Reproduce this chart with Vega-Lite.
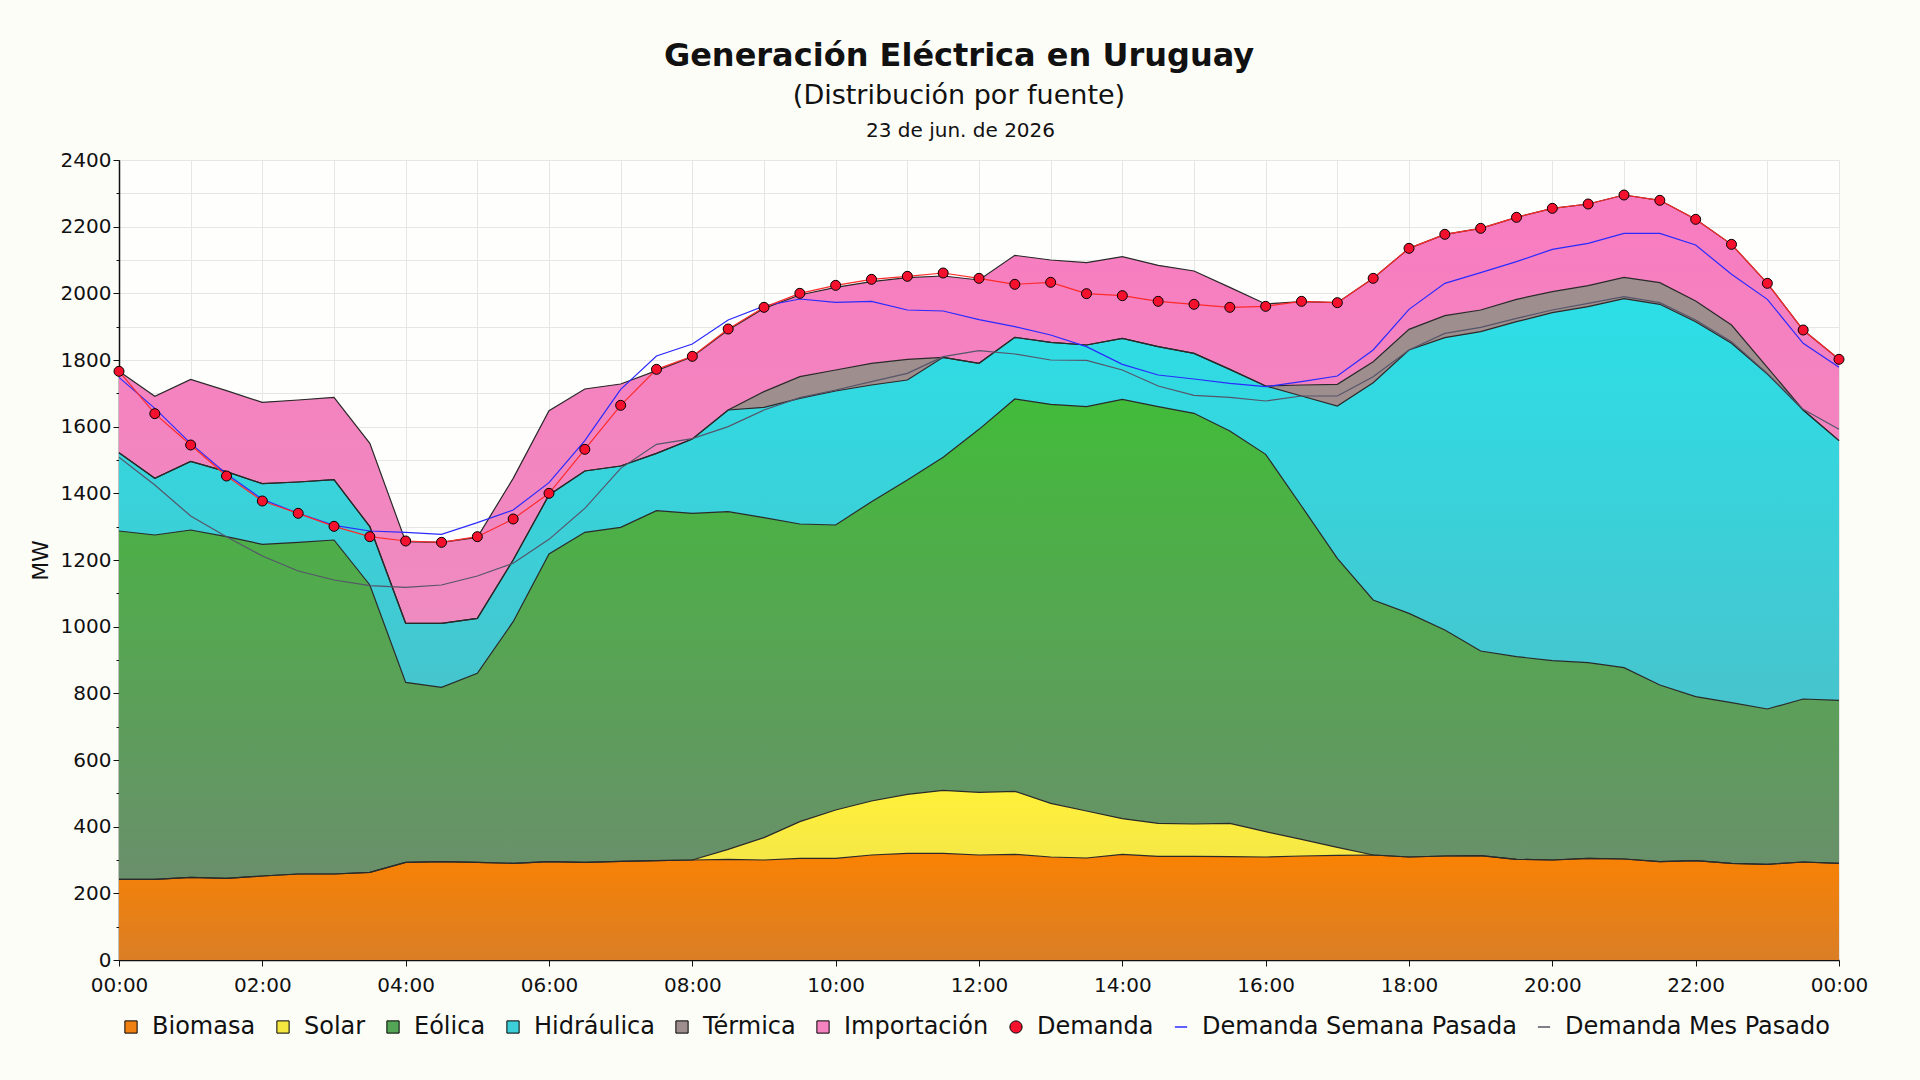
{
  "$schema": "https://vega.github.io/schema/vega-lite/v6.json",
  "width": 1720,
  "height": 800,
  "autosize": "none",
  "padding": {"left": 119, "top": 160, "right": 81, "bottom": 120},
  "background": "#fdfdf8",
  "config": {
    "font": "DejaVu Sans",
    "view": {"fill": "#fefefc", "stroke": null}
  },
  "title": {
    "text": "Generación Eléctrica en Uruguay",
    "subtitle": "(Distribución por fuente)",
    "fontSize": 32,
    "fontWeight": "bold",
    "subtitleFontSize": 27,
    "subtitlePadding": 10,
    "color": "#111",
    "subtitleColor": "#111",
    "font": "DejaVu Sans",
    "subtitleFont": "DejaVu Sans",
    "anchor": "middle",
    "frame": "group",
    "dx": -20,
    "offset": 10
  },
  "data": {
    "values": [
      {"hora": 0, "Biomasa": 242, "Solar": 0, "Eólica": 1045, "Hidráulica": 235, "Térmica": 0, "Importación": 244, "Demanda": 1766, "SemanaPasada": 1748, "MesPasado": 1508},
      {"hora": 0.5, "Biomasa": 242, "Solar": 0, "Eólica": 1033, "Hidráulica": 170, "Térmica": 0, "Importación": 246, "Demanda": 1639, "SemanaPasada": 1655, "MesPasado": 1425},
      {"hora": 1, "Biomasa": 248, "Solar": 0, "Eólica": 1042, "Hidráulica": 206, "Térmica": 0, "Importación": 246, "Demanda": 1545, "SemanaPasada": 1550, "MesPasado": 1332},
      {"hora": 1.5, "Biomasa": 245, "Solar": 0, "Eólica": 1025, "Hidráulica": 195, "Térmica": 0, "Importación": 243, "Demanda": 1452, "SemanaPasada": 1458, "MesPasado": 1270},
      {"hora": 2, "Biomasa": 252, "Solar": 0, "Eólica": 995, "Hidráulica": 182, "Térmica": 0, "Importación": 244, "Demanda": 1377, "SemanaPasada": 1382, "MesPasado": 1212},
      {"hora": 2.5, "Biomasa": 258, "Solar": 0, "Eólica": 995, "Hidráulica": 181, "Térmica": 0, "Importación": 246, "Demanda": 1340, "SemanaPasada": 1340, "MesPasado": 1167},
      {"hora": 3, "Biomasa": 258, "Solar": 0, "Eólica": 1002, "Hidráulica": 181, "Térmica": 0, "Importación": 247, "Demanda": 1301, "SemanaPasada": 1304, "MesPasado": 1140},
      {"hora": 3.5, "Biomasa": 263, "Solar": 0, "Eólica": 862, "Hidráulica": 175, "Térmica": 0, "Importación": 250, "Demanda": 1270, "SemanaPasada": 1287, "MesPasado": 1123},
      {"hora": 4, "Biomasa": 293, "Solar": 0, "Eólica": 540, "Hidráulica": 177, "Térmica": 0, "Importación": 245, "Demanda": 1257, "SemanaPasada": 1283, "MesPasado": 1118},
      {"hora": 4.5, "Biomasa": 295, "Solar": 0, "Eólica": 523, "Hidráulica": 192, "Térmica": 0, "Importación": 243, "Demanda": 1253, "SemanaPasada": 1277, "MesPasado": 1125},
      {"hora": 5, "Biomasa": 293, "Solar": 0, "Eólica": 567, "Hidráulica": 165, "Térmica": 0, "Importación": 243, "Demanda": 1270, "SemanaPasada": 1312, "MesPasado": 1152},
      {"hora": 5.5, "Biomasa": 290, "Solar": 0, "Eólica": 725, "Hidráulica": 185, "Térmica": 0, "Importación": 245, "Demanda": 1323, "SemanaPasada": 1350, "MesPasado": 1190},
      {"hora": 6, "Biomasa": 295, "Solar": 0, "Eólica": 923, "Hidráulica": 177, "Térmica": 0, "Importación": 253, "Demanda": 1400, "SemanaPasada": 1432, "MesPasado": 1262},
      {"hora": 6.5, "Biomasa": 293, "Solar": 0, "Eólica": 990, "Hidráulica": 184, "Térmica": 0, "Importación": 246, "Demanda": 1532, "SemanaPasada": 1558, "MesPasado": 1355},
      {"hora": 7, "Biomasa": 296, "Solar": 0, "Eólica": 1002, "Hidráulica": 184, "Térmica": 0, "Importación": 246, "Demanda": 1664, "SemanaPasada": 1712, "MesPasado": 1475},
      {"hora": 7.5, "Biomasa": 298, "Solar": 0, "Eólica": 1050, "Hidráulica": 172, "Térmica": 0, "Importación": 248, "Demanda": 1772, "SemanaPasada": 1812, "MesPasado": 1547},
      {"hora": 8, "Biomasa": 300, "Solar": 0, "Eólica": 1040, "Hidráulica": 223, "Térmica": 0, "Importación": 247, "Demanda": 1811, "SemanaPasada": 1848, "MesPasado": 1564},
      {"hora": 8.5, "Biomasa": 302, "Solar": 30, "Eólica": 1013, "Hidráulica": 305, "Térmica": 0, "Importación": 240, "Demanda": 1893, "SemanaPasada": 1920, "MesPasado": 1600},
      {"hora": 9, "Biomasa": 300, "Solar": 67, "Eólica": 960, "Hidráulica": 331, "Térmica": 47, "Importación": 250, "Demanda": 1958, "SemanaPasada": 1962, "MesPasado": 1650},
      {"hora": 9.5, "Biomasa": 305, "Solar": 110, "Eólica": 893, "Hidráulica": 377, "Térmica": 65, "Importación": 245, "Demanda": 2000, "SemanaPasada": 1983, "MesPasado": 1687},
      {"hora": 10, "Biomasa": 305, "Solar": 145, "Eólica": 855, "Hidráulica": 402, "Térmica": 63, "Importación": 248, "Demanda": 2024, "SemanaPasada": 1973, "MesPasado": 1710},
      {"hora": 10.5, "Biomasa": 315, "Solar": 162, "Eólica": 898, "Hidráulica": 350, "Térmica": 65, "Importación": 245, "Demanda": 2042, "SemanaPasada": 1976, "MesPasado": 1735},
      {"hora": 11, "Biomasa": 320, "Solar": 177, "Eólica": 943, "Hidráulica": 300, "Térmica": 62, "Importación": 245, "Demanda": 2051, "SemanaPasada": 1950, "MesPasado": 1760},
      {"hora": 11.5, "Biomasa": 320, "Solar": 189, "Eólica": 999, "Hidráulica": 300, "Térmica": 0, "Importación": 244, "Demanda": 2061, "SemanaPasada": 1947, "MesPasado": 1810},
      {"hora": 12, "Biomasa": 315, "Solar": 188, "Eólica": 1089, "Hidráulica": 198, "Térmica": 0, "Importación": 250, "Demanda": 2045, "SemanaPasada": 1921, "MesPasado": 1828},
      {"hora": 12.5, "Biomasa": 317, "Solar": 189, "Eólica": 1177, "Hidráulica": 185, "Térmica": 0, "Importación": 246, "Demanda": 2027, "SemanaPasada": 1900, "MesPasado": 1818},
      {"hora": 13, "Biomasa": 309, "Solar": 161, "Eólica": 1197, "Hidráulica": 186, "Térmica": 0, "Importación": 247, "Demanda": 2033, "SemanaPasada": 1875, "MesPasado": 1800},
      {"hora": 13.5, "Biomasa": 306, "Solar": 141, "Eólica": 1213, "Hidráulica": 185, "Térmica": 0, "Importación": 247, "Demanda": 1999, "SemanaPasada": 1840, "MesPasado": 1799},
      {"hora": 14, "Biomasa": 317, "Solar": 107, "Eólica": 1258, "Hidráulica": 183, "Térmica": 0, "Importación": 245, "Demanda": 1993, "SemanaPasada": 1787, "MesPasado": 1770},
      {"hora": 14.5, "Biomasa": 311, "Solar": 99, "Eólica": 1250, "Hidráulica": 180, "Térmica": 0, "Importación": 244, "Demanda": 1976, "SemanaPasada": 1755, "MesPasado": 1722},
      {"hora": 15, "Biomasa": 311, "Solar": 97, "Eólica": 1232, "Hidráulica": 180, "Térmica": 0, "Importación": 247, "Demanda": 1967, "SemanaPasada": 1743, "MesPasado": 1694},
      {"hora": 15.5, "Biomasa": 310, "Solar": 100, "Eólica": 1177, "Hidráulica": 185, "Térmica": 0, "Importación": 246, "Demanda": 1958, "SemanaPasada": 1730, "MesPasado": 1688},
      {"hora": 16, "Biomasa": 309, "Solar": 76, "Eólica": 1132, "Hidráulica": 205, "Térmica": 0, "Importación": 246, "Demanda": 1961, "SemanaPasada": 1720, "MesPasado": 1677},
      {"hora": 16.5, "Biomasa": 312, "Solar": 50, "Eólica": 1000, "Hidráulica": 330, "Térmica": 33, "Importación": 250, "Demanda": 1976, "SemanaPasada": 1735, "MesPasado": 1692},
      {"hora": 17, "Biomasa": 314, "Solar": 24, "Eólica": 867, "Hidráulica": 457, "Térmica": 65, "Importación": 245, "Demanda": 1972, "SemanaPasada": 1752, "MesPasado": 1692},
      {"hora": 17.5, "Biomasa": 315, "Solar": 0, "Eólica": 765, "Hidráulica": 652, "Térmica": 63, "Importación": 250, "Demanda": 2045, "SemanaPasada": 1830, "MesPasado": 1750},
      {"hora": 18, "Biomasa": 309, "Solar": 0, "Eólica": 731, "Hidráulica": 790, "Térmica": 62, "Importación": 243, "Demanda": 2135, "SemanaPasada": 1952, "MesPasado": 1830},
      {"hora": 18.5, "Biomasa": 312, "Solar": 0, "Eólica": 678, "Hidráulica": 877, "Térmica": 66, "Importación": 244, "Demanda": 2177, "SemanaPasada": 2030, "MesPasado": 1880},
      {"hora": 19, "Biomasa": 313, "Solar": 0, "Eólica": 614, "Hidráulica": 958, "Térmica": 65, "Importación": 245, "Demanda": 2195, "SemanaPasada": 2062, "MesPasado": 1898},
      {"hora": 19.5, "Biomasa": 302, "Solar": 0, "Eólica": 608, "Hidráulica": 1005, "Térmica": 67, "Importación": 246, "Demanda": 2228, "SemanaPasada": 2095, "MesPasado": 1925},
      {"hora": 20, "Biomasa": 300, "Solar": 0, "Eólica": 598, "Hidráulica": 1044, "Térmica": 63, "Importación": 250, "Demanda": 2255, "SemanaPasada": 2132, "MesPasado": 1950},
      {"hora": 20.5, "Biomasa": 305, "Solar": 0, "Eólica": 587, "Hidráulica": 1068, "Térmica": 63, "Importación": 245, "Demanda": 2268, "SemanaPasada": 2150, "MesPasado": 1970},
      {"hora": 21, "Biomasa": 303, "Solar": 0, "Eólica": 574, "Hidráulica": 1107, "Térmica": 64, "Importación": 247, "Demanda": 2295, "SemanaPasada": 2180, "MesPasado": 1990},
      {"hora": 21.5, "Biomasa": 295, "Solar": 0, "Eólica": 530, "Hidráulica": 1142, "Térmica": 65, "Importación": 247, "Demanda": 2279, "SemanaPasada": 2180, "MesPasado": 1972},
      {"hora": 22, "Biomasa": 298, "Solar": 0, "Eólica": 492, "Hidráulica": 1125, "Térmica": 62, "Importación": 245, "Demanda": 2222, "SemanaPasada": 2145, "MesPasado": 1920},
      {"hora": 22.5, "Biomasa": 290, "Solar": 0, "Eólica": 482, "Hidráulica": 1078, "Térmica": 55, "Importación": 242, "Demanda": 2147, "SemanaPasada": 2057, "MesPasado": 1855},
      {"hora": 23, "Biomasa": 287, "Solar": 0, "Eólica": 466, "Hidráulica": 1005, "Térmica": 20, "Importación": 252, "Demanda": 2030, "SemanaPasada": 1982, "MesPasado": 1760},
      {"hora": 23.5, "Biomasa": 294, "Solar": 0, "Eólica": 489, "Hidráulica": 867, "Térmica": 0, "Importación": 240, "Demanda": 1890, "SemanaPasada": 1850, "MesPasado": 1652},
      {"hora": 24, "Biomasa": 290, "Solar": 0, "Eólica": 489, "Hidráulica": 779, "Térmica": 0, "Importación": 244, "Demanda": 1802, "SemanaPasada": 1778, "MesPasado": 1592}
    ]
  },
  "transform": [
    {"fold": ["Biomasa", "Solar", "Eólica", "Hidráulica", "Térmica", "Importación"], "as": ["fuente", "mw"]},
    {"calculate": "indexof(['Biomasa','Solar','Eólica','Hidráulica','Térmica','Importación'], datum.fuente)", "as": "orden"},
    {"stack": "mw", "groupby": ["hora"], "sort": [{"field": "orden", "order": "ascending"}], "as": ["y0", "y1"]}
  ],
  "resolve": {"axis": {"x": "independent", "y": "independent"}},
  "layer": [
    {
      "mark": {"type": "area", "opacity": 1},
      "encoding": {
        "x": {
          "field": "hora",
          "type": "quantitative",
          "scale": {"domain": [0, 24], "nice": false, "zero": false},
          "axis": {
            "orient": "bottom",
            "values": [0, 2, 4, 6, 8, 10, 12, 14, 16, 18, 20, 22, 24],
            "labelExpr": "(datum.value % 24 < 10 ? '0' : '') + (datum.value % 24) + ':00'",
            "grid": false,
            "title": null,
            "labelFontSize": 20,
            "labelColor": "#111",
            "labelPadding": 9,
            "labelFlush": false,
            "labelOverlap": false,
            "tickSize": 6,
            "tickColor": "#111",
            "domainColor": "#111",
            "domainWidth": 1.5
          }
        },
        "y": {
          "field": "y1",
          "type": "quantitative",
          "scale": {"domain": [0, 2400], "nice": false, "zero": true},
          "axis": {
            "orient": "left",
            "values": [0, 200, 400, 600, 800, 1000, 1200, 1400, 1600, 1800, 2000, 2200, 2400],
            "format": "d",
            "grid": false,
            "tickSize": 6,
            "tickColor": "#111",
            "labelFontSize": 20,
            "labelColor": "#111",
            "domainColor": "#111",
            "domainWidth": 1.5,
            "title": "MW",
            "titleFontSize": 22,
            "titleFontWeight": "normal",
            "titleColor": "#111",
            "titlePadding": 8
          }
        },
        "y2": {"field": "y0"},
        "color": {
          "field": "fuente",
          "type": "nominal",
          "scale": {
            "domain": ["Biomasa", "Solar", "Eólica", "Hidráulica", "Térmica", "Importación", "Demanda", "Demanda Semana Pasada", "Demanda Mes Pasado"],
            "range": ["#f08012", "#f5e640", "#55a556", "#3ccfd8", "#9e8e8e", "#f583c0", "#f5102d", "#2a2aff", "#555560"]
          },
          "legend": {
            "orient": "bottom",
            "direction": "horizontal",
            "columns": 9,
            "title": null,
            "offset": 20,
            "labelFontSize": 24,
            "labelColor": "#111",
            "labelLimit": 400,
            "labelOffset": 9,
            "columnPadding": 15,
            "symbolType": "square",
            "symbolSize": 150,
            "symbolStrokeWidth": 1,
            "symbolStrokeColor": "#000",
            "encoding": {
              "symbols": {
                "shape": {"value": {"expr": "datum.value === 'Demanda' ? 'circle' : (datum.value === 'Demanda Semana Pasada' || datum.value === 'Demanda Mes Pasado') ? 'stroke' : 'square'"}},
                "stroke": {"value": {"expr": "datum.value === 'Demanda Semana Pasada' ? '#2a2aff' : datum.value === 'Demanda Mes Pasado' ? '#555560' : '#000'"}},
                "strokeWidth": {"value": {"expr": "(datum.value === 'Demanda Semana Pasada' || datum.value === 'Demanda Mes Pasado') ? 1.5 : 1"}}
              }
            }
          }
        }
      }
    },
    {
      "transform": [{"filter": "datum.fuente === 'Biomasa'"}],
      "mark": {"type": "area", "color": {"gradient": "linear", "x1": 0, "y1": 0, "x2": 0, "y2": 1, "stops": [{"offset": 0, "color": "#f98203"}, {"offset": 1, "color": "#da7e26"}]}},
      "encoding": {
        "x": {"field": "hora", "type": "quantitative", "axis": null},
        "y": {"field": "y1", "type": "quantitative", "axis": null},
        "y2": {"field": "y0"}
      }
    },
    {
      "transform": [{"filter": "datum.fuente === 'Solar'"}],
      "mark": {"type": "area", "color": {"gradient": "linear", "x1": 0, "y1": 0, "x2": 0, "y2": 1, "stops": [{"offset": 0, "color": "#fff03a"}, {"offset": 1, "color": "#f3e54a"}]}},
      "encoding": {
        "x": {"field": "hora", "type": "quantitative", "axis": null},
        "y": {"field": "y1", "type": "quantitative", "axis": null},
        "y2": {"field": "y0"}
      }
    },
    {
      "transform": [{"filter": "datum.fuente === 'Eólica'"}],
      "mark": {"type": "area", "color": {"gradient": "linear", "x1": 0, "y1": 0, "x2": 0, "y2": 1, "stops": [{"offset": 0, "color": "#42bb3a"}, {"offset": 1, "color": "#6a8f6b"}]}},
      "encoding": {
        "x": {"field": "hora", "type": "quantitative", "axis": null},
        "y": {"field": "y1", "type": "quantitative", "axis": null},
        "y2": {"field": "y0"}
      }
    },
    {
      "transform": [{"filter": "datum.fuente === 'Hidráulica'"}],
      "mark": {"type": "area", "color": {"gradient": "linear", "x1": 0, "y1": 0, "x2": 0, "y2": 1, "stops": [{"offset": 0, "color": "#2cdfe7"}, {"offset": 1, "color": "#47c4cd"}]}},
      "encoding": {
        "x": {"field": "hora", "type": "quantitative", "axis": null},
        "y": {"field": "y1", "type": "quantitative", "axis": null},
        "y2": {"field": "y0"}
      }
    },
    {
      "transform": [{"filter": "datum.fuente === 'Térmica'"}],
      "mark": {"type": "area", "color": "#9e8e8e"},
      "encoding": {
        "x": {"field": "hora", "type": "quantitative", "axis": null},
        "y": {"field": "y1", "type": "quantitative", "axis": null},
        "y2": {"field": "y0"}
      }
    },
    {
      "transform": [{"filter": "datum.fuente === 'Importación'"}],
      "mark": {"type": "area", "color": {"gradient": "linear", "x1": 0, "y1": 0, "x2": 0, "y2": 1, "stops": [{"offset": 0, "color": "#f87cc0"}, {"offset": 1, "color": "#ef8bc0"}]}},
      "encoding": {
        "x": {"field": "hora", "type": "quantitative", "axis": null},
        "y": {"field": "y1", "type": "quantitative", "axis": null},
        "y2": {"field": "y0"}
      }
    },
    {
      "mark": {"type": "line", "color": "#2a2a2a", "strokeWidth": 1.2},
      "encoding": {
        "x": {
          "field": "hora",
          "type": "quantitative",
          "axis": {
            "orient": "top",
            "values": [0, 1, 2, 3, 4, 5, 6, 7, 8, 9, 10, 11, 12, 13, 14, 15, 16, 17, 18, 19, 20, 21, 22, 23, 24],
            "grid": true,
            "gridColor": "#e6e6e6",
            "labels": false,
            "ticks": false,
            "domain": false,
            "title": "23 de jun. de 2026",
            "titleFontSize": 20,
            "titleFontWeight": "normal",
            "titleColor": "#111",
            "titlePadding": 20,
            "titleX": 841
          }
        },
        "y": {
          "field": "y1",
          "type": "quantitative",
          "axis": {
            "orient": "left",
            "values": [0, 100, 200, 300, 400, 500, 600, 700, 800, 900, 1000, 1100, 1200, 1300, 1400, 1500, 1600, 1700, 1800, 1900, 2000, 2100, 2200, 2300, 2400],
            "grid": true,
            "gridColor": "#e6e6e6",
            "labels": false,
            "tickSize": 3,
            "tickColor": "#111",
            "domain": false,
            "title": null
          }
        },
        "detail": {"field": "fuente"}
      }
    },
    {
      "transform": [{"filter": "datum.fuente === 'Biomasa'"}],
      "mark": {"type": "line", "color": "#55556a", "strokeWidth": 1.2},
      "encoding": {
        "x": {"field": "hora", "type": "quantitative", "axis": null},
        "y": {"field": "MesPasado", "type": "quantitative", "axis": null}
      }
    },
    {
      "transform": [{"filter": "datum.fuente === 'Biomasa'"}],
      "mark": {"type": "line", "color": "#2a2aff", "strokeWidth": 1.2},
      "encoding": {
        "x": {"field": "hora", "type": "quantitative", "axis": null},
        "y": {"field": "SemanaPasada", "type": "quantitative", "axis": null}
      }
    },
    {
      "transform": [{"filter": "datum.fuente === 'Biomasa'"}],
      "mark": {
        "type": "line",
        "color": "#ff2a2a",
        "strokeWidth": 1.2,
        "point": {"filled": true, "fill": "#f5102d", "stroke": "#000", "strokeWidth": 1, "size": 100, "opacity": 1}
      },
      "encoding": {
        "x": {"field": "hora", "type": "quantitative", "axis": null},
        "y": {"field": "Demanda", "type": "quantitative", "axis": null}
      }
    }
  ]
}
